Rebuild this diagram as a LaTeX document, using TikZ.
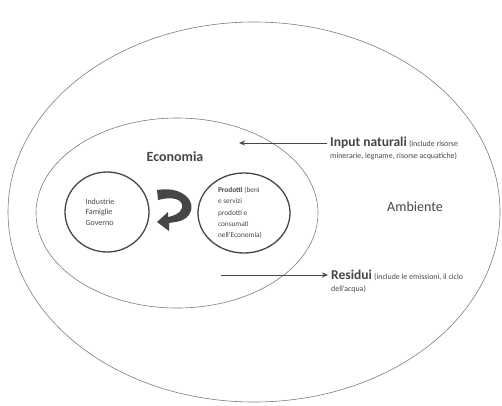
\documentclass[tikz,border=0pt]{standalone}
\usepackage{fontspec}
\setmainfont{Carlito}
\usetikzlibrary{arrows.meta,shapes.geometric}
\definecolor{ink}{RGB}{70,70,70}
\definecolor{linec}{RGB}{125,125,125}
\tikzset{
  ring/.style={draw=linec, line width=0.6pt},
  bubble/.style={draw=ink, line width=1.3pt},
  flow/.style={draw=ink, line width=0.9pt, -{Stealth[length=6pt,width=5pt]}},
  lbl/.style={text=ink, inner sep=0pt, anchor=west, align=left},
  small/.style={font=\fontsize{7.9}{9.5}\selectfont}
}
\begin{document}
\begin{tikzpicture}[x=1pt,y=-1pt]
\useasboundingbox (0,0) rectangle (502,405);
\node[ring, ellipse, minimum width=492pt, minimum height=380pt, inner sep=0pt] (amb) at (254,212) {};
\node[ring, ellipse, minimum width=282pt, minimum height=190pt, inner sep=0pt] (eco) at (177,213) {};
\node[bubble, ellipse, minimum width=84pt, minimum height=80pt, inner sep=0pt] (ifg) at (107,212) {};
\node[bubble, ellipse, minimum width=92pt, minimum height=80pt, inner sep=0pt] (prod) at (244,213) {};
\node[text=ink, font=\fontsize{8}{10.5}\selectfont, align=left] (ifgt) at (100,212) {Industrie\\Famiglie\\Governo};
\node[text=ink, font=\fontsize{7.3}{11.2}\selectfont, align=left] (prodt) at (240,213) {\textbf{Prodotti} (beni\\e servizi\\prodotti e\\consumati\\nell'Economia)};
\node[text=ink, font=\bfseries\fontsize{14}{16}\selectfont] (ecot) at (175,157) {Economia};
\node[text=ink, font=\fontsize{14}{16}\selectfont] (ambt) at (415,207) {Ambiente};
% input
\node[lbl] (inp) at (330,143) {{\bfseries\fontsize{13.5}{16}\selectfont Input naturali} {\fontsize{7.9}{9.5}\selectfont (include risorse}};
\node[lbl, small] (inp2) at (330,156) {minerarie, legname, risorse acquatiche)};
\coordinate (inA) at (239,143);
\draw[flow] (inp.west) ++(-3pt,0) -- (inA);
% residui
\node[lbl] (res) at (331,275) {{\bfseries\fontsize{13.5}{16}\selectfont Residui} {\fontsize{7.9}{9.5}\selectfont (include le emissioni, il ciclo}};
\node[lbl, small] (res2) at (331,289) {dell'acqua)};
\coordinate (resA) at (221,275);
\draw[flow] (resA) -- ([xshift=-3pt]res.west |- resA);
% curved arrow
\fill[ink] (157,190) .. controls (186,185) and (200,206) .. (186,218)
  .. controls (181,222) and (174,222) .. (169,223)
  -- (169,231) -- (157,222) -- (168,212) -- (168,217)
  .. controls (173,216) and (180,214) .. (182,208)
  .. controls (184,199) and (172,196) .. (158,200) -- cycle;
\end{tikzpicture}
\end{document}
